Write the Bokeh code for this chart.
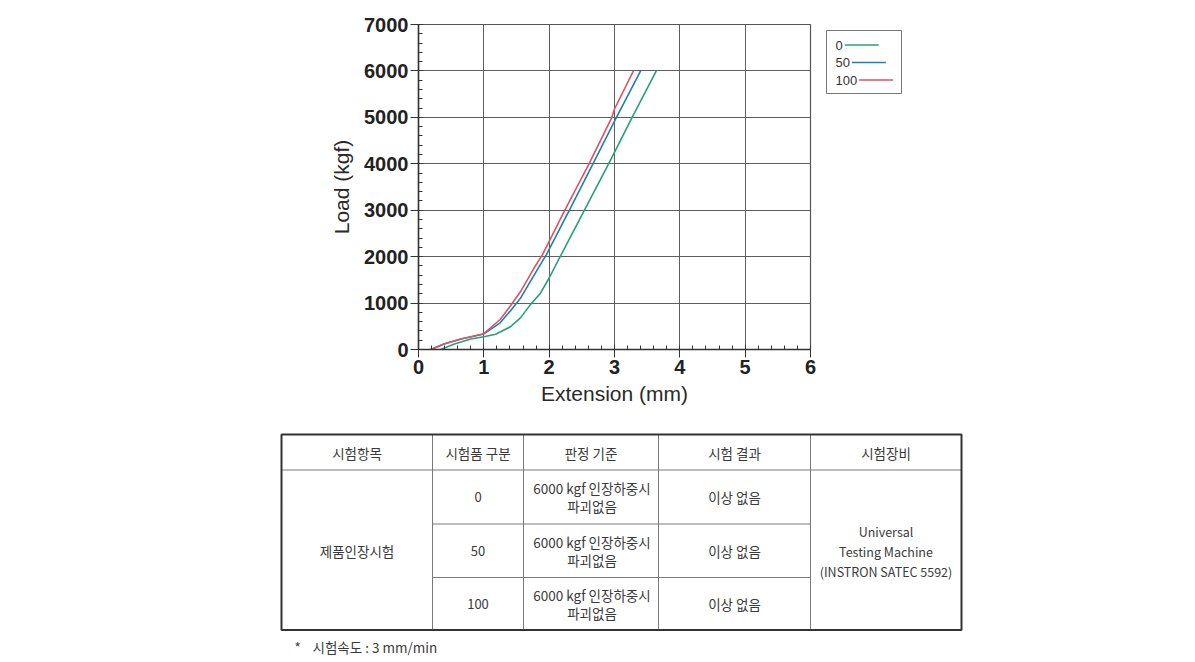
from bokeh.plotting import figure
from bokeh.models import Range1d, SingleIntervalTicker
from bokeh.layouts import column, row
from bokeh.core.properties import value
from bokeh.embed import file_html
from bokeh.resources import INLINE

# ---------------- data ----------------
series_names = ["0", "50", "100"]
series_colors = ["#27a07c", "#1f80ad", "#dd5363"]

ext_0 = [0.34, 0.55, 0.80, 1.0, 1.18, 1.40, 1.56, 1.71, 1.86, 2.0, 2.15, 2.54, 2.91, 3.27, 3.64]
load_0 = [0, 119, 225, 274, 330, 484, 681, 961, 1200, 1540, 1950, 3000, 4000, 5000, 6000]

ext_50 = [0.19, 0.39, 0.65, 1.0, 1.25, 1.40, 1.56, 1.81, 1.96, 2.31, 2.67, 3.03, 3.40]
load_50 = [0, 119, 225, 335, 575, 821, 1102, 1698, 2050, 3000, 4000, 5000, 6000]

ext_100 = [0.19, 0.39, 0.65, 1.0, 1.25, 1.40, 1.56, 1.76, 1.90, 2.24, 2.61, 2.96, 3.0, 3.29]
load_100 = [0, 119, 225, 340, 646, 926, 1242, 1733, 2050, 3000, 4000, 5000, 5180, 6000]

x_label = "Extension (mm)"
y_label = "Load (kgf)"

table_header = ["시험항목", "시험품 구분", "판정 기준", "시험 결과", "시험장비"]
test_item = "제품인장시험"
specimens = ["0", "50", "100"]
criteria_line1 = ["6000 kgf 인장하중시", "6000 kgf 인장하중시", "6000 kgf 인장하중시"]
criteria_line2 = ["파괴없음", "파괴없음", "파괴없음"]
results = ["이상 없음", "이상 없음", "이상 없음"]
equipment = ["Universal", "Testing Machine", "(INSTRON SATEC 5592)"]
footnote_star = "*"
footnote_text = "시험속도 : 3 mm/min"

# ---------------- chart ----------------
AX = "#333333"
BT, BB = 24, 71
chart = figure(width=820, height=420, x_range=Range1d(0, 6), y_range=Range1d(0, 7000),
               output_backend="svg", toolbar_location=None,
               min_border_left=418, min_border_right=10, min_border_top=BT, min_border_bottom=BB)
chart.background_fill_color = "white"
chart.border_fill_color = "white"
chart.outline_line_color = "#555555"
chart.outline_line_width = 1.2

for ext, load, col, name in zip([ext_0, ext_50, ext_100], [load_0, load_50, load_100],
                                series_colors, series_names):
    chart.line(ext, load, line_color=col, line_width=1.6)

chart.xaxis.ticker = SingleIntervalTicker(interval=1, num_minor_ticks=5)
chart.yaxis.ticker = SingleIntervalTicker(interval=1000, num_minor_ticks=5)
for ax in (chart.xaxis[0], chart.yaxis[0]):
    ax.axis_line_color = AX
    ax.axis_line_width = 1.5
    ax.major_tick_line_color = AX
    ax.minor_tick_line_color = AX
    ax.major_tick_out = 8
    ax.major_tick_in = 0
    ax.minor_tick_out = 0
    ax.minor_tick_in = 4
    ax.major_label_text_font = "Liberation Sans"
    ax.major_label_text_font_style = "bold"
    ax.major_label_text_font_size = "20px"
    ax.major_label_text_color = "#222222"
    ax.axis_label_text_font = "Liberation Sans"
    ax.axis_label_text_font_style = "normal"
    ax.axis_label_text_font_size = "21px"
    ax.axis_label_text_color = "#2a2a2a"
chart.xaxis.axis_label = x_label
chart.yaxis.axis_label = y_label
chart.xaxis.major_label_standoff = 2
chart.xaxis.axis_label_standoff = 5
chart.yaxis.major_label_standoff = 2
chart.yaxis.axis_label_standoff = 8

chart.xgrid.grid_line_color = "#5e5e5e"
chart.ygrid.grid_line_color = "#5e5e5e"
chart.xgrid.grid_line_width = 1
chart.ygrid.grid_line_width = 1

# ---------------- legend (label left, sample line right) ----------------
# frame aligned with the chart frame: y maps to page pixels 24..349
leg = figure(width=375, height=420, x_range=Range1d(820, 1195), y_range=Range1d(420 - BB, BT),
             output_backend="svg", toolbar_location=None, x_axis_type=None, y_axis_type=None,
             min_border_left=0, min_border_right=0, min_border_top=BT, min_border_bottom=BB)
leg.xgrid.visible = False
leg.ygrid.visible = False
leg.outline_line_color = None
leg.quad(left=[826], right=[901], top=[30], bottom=[93], fill_color="white", line_color="#777777", line_width=1)
for i, (name, col) in enumerate(zip(series_names, series_colors)):
    yy = 44.5 + i * 17.5
    leg.text([835], [yy], text=[name], text_font=value("Liberation Sans"), text_font_size="13px",
             text_baseline="middle", text_align="left", text_color="#333333")
    x0 = 835 + len(name) * 7.2 + 2
    leg.segment([x0], [yy], [x0 + 34], [yy], line_color=col, line_width=1.4)

# ---------------- table ----------------
tab = figure(width=1195, height=242, x_range=Range1d(0, 1195), y_range=Range1d(662, 420),
             output_backend="svg", toolbar_location=None, x_axis_type=None, y_axis_type=None,
             min_border=0)
tab.xgrid.visible = False
tab.ygrid.visible = False
tab.outline_line_color = None

L, R, T, B = 281, 961, 434, 629.5
cols = [L, 432, 523, 658, 810, R]
hdr_b = 469.5
rows = [hdr_b, 523.5, 577, B]
INNER = "#7a7a7a"
tab.segment(cols[1:-1], [T] * 4, cols[1:-1], [B] * 4, line_color=INNER, line_width=1)
tab.segment([L], [hdr_b], [R], [hdr_b], line_color=INNER, line_width=1)
tab.segment([cols[1], cols[1]], [rows[1], rows[2]], [cols[4], cols[4]], [rows[1], rows[2]],
            line_color=INNER, line_width=1)
tab.quad(left=[L], right=[R], top=[T], bottom=[B], fill_color=None, line_color="#333333", line_width=2)

TF = value("Noto Sans CJK KR")
TC = "#3a3a3a"
FS = "13.5px"
centers = [(cols[i] + cols[i + 1]) / 2 for i in range(5)]
tab.text(centers, [452] * 5, text=table_header, text_font=TF, text_font_size=FS,
         text_align="center", text_baseline="middle", text_color=TC)
row_mid = [(rows[i] + rows[i + 1]) / 2 for i in range(3)]
tab.text([centers[0]], [550], text=[test_item], text_font=TF, text_font_size=FS,
         text_align="center", text_baseline="middle", text_color=TC)
tab.text([centers[1]] * 3, row_mid, text=specimens, text_font=TF, text_font_size="13px",
         text_align="center", text_baseline="middle", text_color=TC)
tab.text([centers[2] + 1] * 3, [m - 9 for m in row_mid], text=criteria_line1, text_font=TF, text_font_size=FS,
         text_align="center", text_baseline="middle", text_color=TC)
tab.text([centers[2] + 1] * 3, [m + 9 for m in row_mid], text=criteria_line2, text_font=TF, text_font_size=FS,
         text_align="center", text_baseline="middle", text_color=TC)
tab.text([centers[3]] * 3, row_mid, text=results, text_font=TF, text_font_size=FS,
         text_align="center", text_baseline="middle", text_color=TC)
tab.text([centers[4]] * 3, [531, 551, 571], text=equipment, text_font=TF, text_font_size="12.5px",
         text_align="center", text_baseline="middle", text_color=TC)
tab.text([294], [646], text=[footnote_star], text_font=TF, text_font_size=FS,
         text_align="left", text_baseline="middle", text_color=TC)
tab.text([312], [646], text=[footnote_text], text_font=TF, text_font_size=FS,
         text_align="left", text_baseline="middle", text_color=TC)

layout = column(row(chart, leg, spacing=0), tab, spacing=0)
open("out.html", "w").write(file_html(layout, INLINE))
